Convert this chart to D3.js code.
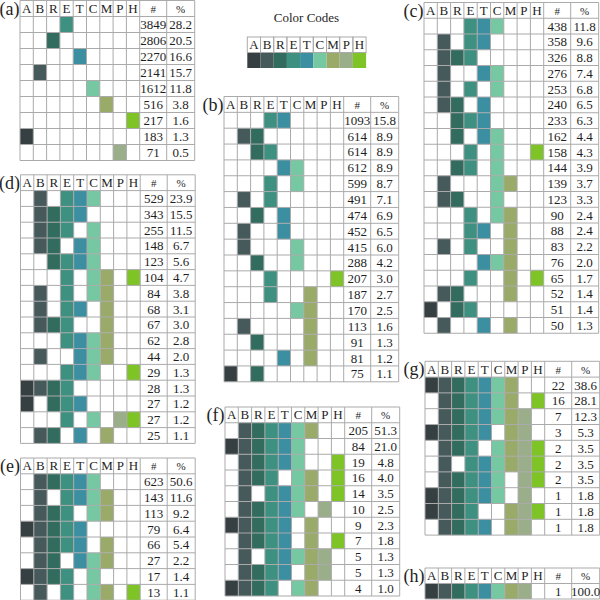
<!DOCTYPE html>
<html>
<head>
<meta charset="utf-8">
<script src="https://cdn.jsdelivr.net/npm/d3@7"></script>
<style>
	body { margin: 0; background: #fff; }
	svg text { font-family: "Liberation Serif", "Times New Roman", Times, serif; fill: #1e1e1e; }
</style>
</head>
<body>
<div id="chart"></div>
<script>
// column codes and their colours
const letters = ["A", "B", "R", "E", "T", "C", "M", "P", "H"];
const letter_colors = ["#363f42", "#46595b", "#316c5f", "#3e9081", "#3b8fa1", "#76c8a3", "#9aab69", "#9aae8a", "#7ec426"];

// (a) single
const a_rows = ["E", "R", "T", "B", "C", "M", "H", "A", "P"];
const a_counts = [3849, 2806, 2270, 2141, 1612, 516, 217, 183, 71];
const a_pcts = ["28.2", "20.5", "16.6", "15.7", "11.8", "3.8", "1.6", "1.3", "0.5"];

// (b) pairs
const b_rows = ["ET", "BR", "RE", "TC", "EC", "BE", "RT", "BT", "BC", "RC", "EH", "EM", "CM", "BM", "RM", "TM", "AR"];
const b_counts = [1093, 614, 614, 612, 599, 491, 474, 452, 415, 288, 207, 187, 170, 113, 91, 81, 75];
const b_pcts = ["15.8", "8.9", "8.9", "8.9", "8.7", "7.1", "6.9", "6.5", "6.0", "4.2", "3.0", "2.7", "2.5", "1.6", "1.3", "1.2", "1.1"];

// (c) triples
const c_rows = ["ETC", "BET", "BRE", "BTC", "BEC", "BRT", "RET", "RTC", "ECH", "REC", "BCM", "BRC", "ECM", "ETM", "BEM", "TCM", "EMH", "BRM", "ARE", "BTM"];
const c_counts = [438, 358, 326, 276, 253, 240, 233, 162, 158, 144, 139, 123, 90, 88, 83, 76, 65, 52, 51, 50];
const c_pcts = ["11.8", "9.6", "8.8", "7.4", "6.8", "6.5", "6.3", "4.4", "4.3", "3.9", "3.7", "3.3", "2.4", "2.4", "2.2", "2.0", "1.7", "1.4", "1.4", "1.3"];

// (d) four
const d_rows = ["BETC", "BRET", "BREC", "BRTC", "RETC", "ECMH", "BECM", "BETM", "BREM", "ETCM", "BTCM", "ETCH", "ABRE", "ARET", "ECPH", "BRTM"];
const d_counts = [529, 343, 255, 148, 123, 104, 84, 68, 67, 62, 44, 29, 28, 27, 27, 25];
const d_pcts = ["23.9", "15.5", "11.5", "6.7", "5.6", "4.7", "3.8", "3.1", "3.0", "2.8", "2.0", "1.3", "1.3", "1.2", "1.2", "1.1"];

// (e) five
const e_rows = ["BRETC", "BETCM", "BRECM", "ABRET", "BRETM", "BRTCM", "ABREC", "BECMH"];
const e_counts = [623, 143, 113, 79, 66, 27, 17, 13];
const e_pcts = ["50.6", "11.6", "9.2", "6.4", "5.4", "2.2", "1.4", "1.1"];

// (f) six
const f_rows = ["BRETCM", "ABRETC", "BRETCH", "BRECMH", "BETCMH", "BRETCP", "ABRETM", "BRETMH", "BETCMP", "BRETMP", "ABRECM"];
const f_counts = [205, 84, 19, 16, 14, 10, 9, 7, 5, 5, 4];
const f_pcts = ["51.3", "21.0", "4.8", "4.0", "3.5", "2.5", "2.3", "1.8", "1.3", "1.3", "1.0"];

// (g) seven
const g_rows = ["ABRETCM", "BRETCMH", "BRETCMP", "ABRETMP", "BRECMPH", "BETCMPH", "BRETCPH", "ABRETCP", "ABREMPH", "BRETMP"];
const g_counts = [22, 16, 7, 3, 2, 2, 2, 1, 1, 1];
const g_pcts = ["38.6", "28.1", "12.3", "5.3", "3.5", "3.5", "3.5", "1.8", "1.8", "1.8"];

// (h) eight
const h_rows = ["ABRETCMP"];
const h_counts = [1];
const h_pcts = ["100.0"];

const width = 600;
const height = 600;
const cell_w = 13.3;
const count_w = 27;
const pct_w = 28;
const grid_color = "#aaaaaa";
const serif = "'Liberation Serif', 'Times New Roman', Times, serif";

const color = d3.scaleOrdinal().domain(letters).range(letter_colors);

const svg = d3
	.select("#chart")
	.append("svg")
	.attr("width", width)
	.attr("height", height)
	.attr("font-family", serif);

const panels = [
	{ id: "a", rows: a_rows, counts: a_counts, pcts: a_pcts, x: 20, y: 0.5, row_h: 16 },
	{ id: "b", rows: b_rows, counts: b_counts, pcts: b_pcts, x: 224, y: 96.5, row_h: 15.85 },
	{ id: "c", rows: c_rows, counts: c_counts, pcts: c_pcts, x: 424, y: 2.5, row_h: 15.75 },
	{ id: "d", rows: d_rows, counts: d_counts, pcts: d_pcts, x: 20.5, y: 174.8, row_h: 15.8 },
	{ id: "e", rows: e_rows, counts: e_counts, pcts: e_pcts, x: 20.5, y: 458, row_h: 15.8 },
	{ id: "f", rows: f_rows, counts: f_counts, pcts: f_pcts, x: 225, y: 407, row_h: 15.75 },
	{ id: "g", rows: g_rows, counts: g_counts, pcts: g_pcts, x: 425, y: 361.3, row_h: 15.8 },
	{ id: "h", rows: h_rows, counts: h_counts, pcts: h_pcts, x: 425, y: 568, row_h: 15.5 },
];

function draw_table(p) {
	const g = svg.append("g").attr("class", "panel_" + p.id);
	const cols = letters.concat(["#", "%"]);
	const x = d3
		.scaleBand()
		.domain(letters)
		.range([p.x, p.x + cell_w * letters.length]);
	const x_end = p.x + cell_w * letters.length;
	const col_left = (c) => (c === "#" ? x_end : c === "%" ? x_end + count_w : x(c));
	const col_width = (c) => (c === "#" ? count_w : c === "%" ? pct_w : x.bandwidth());
	const row_keys = d3.range(p.rows.length + 1); // 0 = header
	const y = d3
		.scaleBand()
		.domain(row_keys)
		.range([p.y, p.y + p.row_h * row_keys.length]);

	// coloured cells
	const cells = [];
	p.rows.forEach((r, i) => {
		r.split("").forEach((l) => cells.push({ row: i + 1, key: l }));
	});
	g.selectAll("rect.cell")
		.data(cells)
		.join("rect")
		.attr("class", "cell")
		.attr("x", (d) => x(d.key))
		.attr("y", (d) => y(d.row))
		.attr("width", x.bandwidth())
		.attr("height", y.bandwidth())
		.attr("fill", (d) => color(d.key));

	// grid lines
	const left = p.x;
	const right = x_end + count_w + pct_w;
	const top = p.y;
	const bottom = y(row_keys[row_keys.length - 1]) + y.bandwidth();
	const h_lines = row_keys.map((k) => y(k)).concat([bottom]);
	const v_lines = cols.map((c) => col_left(c)).concat([right]);
	g.selectAll("line.h")
		.data(h_lines)
		.join("line")
		.attr("x1", left)
		.attr("x2", right)
		.attr("y1", (d) => d)
		.attr("y2", (d) => d)
		.attr("stroke", grid_color)
		.attr("stroke-width", 1);
	g.selectAll("line.v")
		.data(v_lines)
		.join("line")
		.attr("x1", (d) => d)
		.attr("x2", (d) => d)
		.attr("y1", top)
		.attr("y2", bottom)
		.attr("stroke", grid_color)
		.attr("stroke-width", 1);

	// header
	g.selectAll("text.head")
		.data(cols)
		.join("text")
		.attr("x", (c) => col_left(c) + col_width(c) / 2)
		.attr("y", y(0) + y.bandwidth() / 2 + 4.3)
		.attr("text-anchor", "middle")
		.attr("font-family", serif)
		.attr("font-size", (c) => (c === "#" || c === "%" ? 11 : 13))
		.text((c) => c);

	// numbers
	g.selectAll("text.count")
		.data(p.counts)
		.join("text")
		.attr("x", x_end + count_w / 2)
		.attr("y", (d, i) => y(i + 1) + y.bandwidth() / 2 + 4.5)
		.attr("text-anchor", "middle")
		.attr("font-family", serif)
		.attr("font-size", 13)
		.text((d) => d);
	g.selectAll("text.pct")
		.data(p.pcts)
		.join("text")
		.attr("x", x_end + count_w + pct_w / 2)
		.attr("y", (d, i) => y(i + 1) + y.bandwidth() / 2 + 4.5)
		.attr("text-anchor", "middle")
		.attr("font-family", serif)
		.attr("font-size", 13)
		.text((d) => d);

	// panel label
	g.append("text")
		.attr("x", p.x - 0.5)
		.attr("y", p.y + 14)
		.attr("text-anchor", "end")
		.attr("font-family", serif)
		.attr("font-size", 18)
		.text("(" + p.id + ")");
}

panels.forEach(draw_table);

// colour code legend
const legend = svg.append("g").attr("class", "legend");
const lx = d3
	.scaleBand()
	.domain(letters)
	.range([247.3, 247.3 + 13.2 * letters.length]);
const ly = { top: 37, h: 15.5 };
legend
	.append("text")
	.attr("x", 306.5)
	.attr("y", 21.5)
	.attr("text-anchor", "middle")
	.attr("font-family", serif)
	.attr("font-size", 13)
	.text("Color Codes");
legend
	.selectAll("rect")
	.data(letters)
	.join("rect")
	.attr("x", (d) => lx(d))
	.attr("y", ly.top + ly.h)
	.attr("width", lx.bandwidth())
	.attr("height", ly.h)
	.attr("fill", (d) => color(d));
legend
	.selectAll("rect.head")
	.data(letters)
	.join("rect")
	.attr("class", "head")
	.attr("x", (d) => lx(d))
	.attr("y", ly.top)
	.attr("width", lx.bandwidth())
	.attr("height", ly.h)
	.attr("fill", "none")
	.attr("stroke", grid_color);
legend
	.selectAll("text.head")
	.data(letters)
	.join("text")
	.attr("class", "head")
	.attr("x", (d) => lx(d) + lx.bandwidth() / 2)
	.attr("y", ly.top + ly.h / 2 + 4.3)
	.attr("text-anchor", "middle")
	.attr("font-family", serif)
	.attr("font-size", 13)
	.text((d) => d);
</script>
</body>
</html>
